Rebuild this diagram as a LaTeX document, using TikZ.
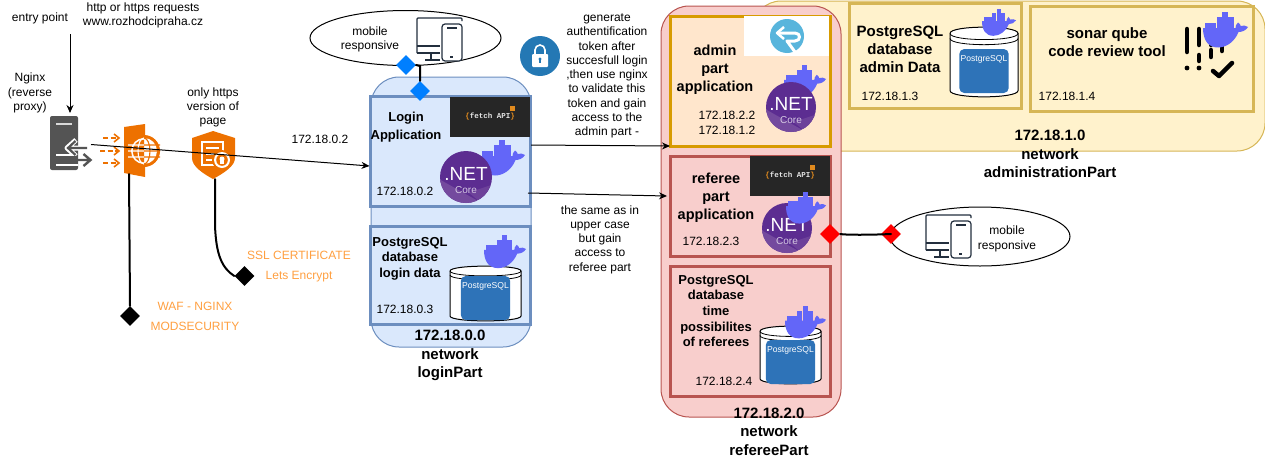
\documentclass[tikz,border=0pt]{standalone}
\usepackage{fontspec}
\setmainfont{Liberation Sans}
\newfontfamily\fetchfont{Liberation Mono}
\usetikzlibrary{arrows.meta,shapes.geometric}
\definecolor{bluefill}{HTML}{DAE8FC}\definecolor{bluedraw}{HTML}{6C8EBF}
\definecolor{redfill}{HTML}{F8CECC}\definecolor{reddraw}{HTML}{B85450}
\definecolor{yelfill}{HTML}{FFF2CC}\definecolor{yeldraw}{HTML}{D6B656}
\definecolor{orfill}{HTML}{FFE6CC}\definecolor{ordraw}{HTML}{D79B00}
\definecolor{awsorange}{HTML}{ED7100}\definecolor{labelorange}{HTML}{FF9F40}
\definecolor{whale}{HTML}{6366F8}\definecolor{pgblue}{HTML}{2E73B8}
\definecolor{netdark}{HTML}{5C2D91}\definecolor{netlight}{HTML}{744A9E}
\definecolor{srvgrey}{HTML}{545454}\definecolor{iconink}{HTML}{232F3E}
\definecolor{lockblue}{HTML}{2478B4}\definecolor{logoblue}{HTML}{58B5DC}
\definecolor{fetchbg}{HTML}{262626}\definecolor{fetchor}{HTML}{E08A1E}
\definecolor{linkblue}{HTML}{007FFF}
\tikzset{
 net/.style={draw,line width=1pt,rounded corners=28pt,inner sep=0pt},
 srvbox/.style={draw,line width=3pt,inner sep=0pt},
 txt/.style={inner sep=0pt,align=center,font=\fontsize{12}{14.3}\selectfont},
 btxt/.style={inner sep=0pt,align=center,font=\fontsize{13}{18}\selectfont\bfseries},
 bigtxt/.style={inner sep=0pt,align=center,font=\fontsize{14.5}{18}\selectfont\bfseries},
 nettxt/.style={inner sep=0pt,align=center,font=\fontsize{15}{18.5}\selectfont\bfseries},
 ortxt/.style={inner sep=0pt,align=center,text=labelorange,font=\fontsize{12}{20}\selectfont},
 ellbox/.style={draw=black,ellipse,fill=white,line width=1pt,inner sep=0pt},
 link/.style={diamond,inner sep=0pt,minimum width=20pt,minimum height=20pt},
 arrowline/.style={line width=1pt,-{Stealth[length=8pt,width=7pt]}},
 thickline/.style={line width=2pt,line cap=round},
}
% whale: x y width
\newcommand{\dockerwhale}[3]{%
 \begin{scope}[shift={(#1,#2)},scale=#3/45]
  \fill[whale] (0,16) -- (32.5,16) .. controls (32.5,14) and (33,12.5) .. (35,10.5) .. controls (36.5,11.5) and (37.5,12.5) .. (37.7,14) .. controls (40,13) and (43,13.5) .. (45,15) .. controls (43,18.5) and (39,20) .. (35.5,20) .. controls (32,29) and (24,35.5) .. (15,35.5) .. controls (5,35.5) and (0,28) .. (0,16) -- cycle;
  \foreach \c in {2.3,8,13.7,19.4,25.1} \fill[whale] (\c,10.6) rectangle +(5.4,5.8);
  \foreach \c in {13.7,19.4,25.1} \fill[whale] (\c,5.2) rectangle +(5.4,5.6);
  \fill[whale] (19.4,0) rectangle +(5.4,5.4);
 \end{scope}}
% .NET: name cx cy r
\newcommand{\dotnetlogo}[4]{%
 \begin{scope}
  \fill[netdark] (#2,#3) circle (#4);
  \begin{scope}
   \clip (#2,#3) circle (#4);
   \fill[netlight] (#2-#4,#3+0.1*#4) -- (#2+0.6*#4,#3+#4) -- (#2-#4,#3+#4) -- cycle;
   \fill[netlight!70!netdark] (#2+0.6*#4,#3+#4) -- (#2+#4,#3+0.3*#4) -- (#2+0.1*#4,#3+0.6*#4) -- cycle;
  \end{scope}
  \node[inner sep=0pt,text=white,font=\fontsize{19}{19}\selectfont] (#1t) at (#2,#3-3) {.NET};
  \node[inner sep=0pt,text=white!75!netdark,font=\fontsize{10}{10}\selectfont] (#1c) at (#2,#3+13) {Core};
 \end{scope}}
% postgres drum: name x0 y0 x1 y1 recttop rectbottom
\newcommand{\pgdrum}[7]{%
 \begin{scope}[shift={(#2,#3)},x={({(#4-#2)/70*1pt},0pt)},y={(0pt,{-(#5-#3)/55*1pt})}]
  \draw[fill=white,line width=1pt] (0,5) .. controls (0,-1.5) and (70,-1.5) .. (70,5) -- (70,50) .. controls (70,56.5) and (0,56.5) .. (0,50) -- cycle;
  \draw[line width=.8pt] (0,5) .. controls (0,11.5) and (70,11.5) .. (70,5);
  \draw[line width=.8pt] (0,9) .. controls (0,15.5) and (70,15.5) .. (70,9);
 \end{scope}
 \fill[pgblue,rounded corners=5pt] ({(#2+#4)/2-24.7},#6) rectangle ({(#2+#4)/2+24.7},#7);
 \node[inner sep=0pt,text=white,font=\fontsize{8.6}{10}\selectfont] (#1) at ({(#2+#4)/2},#6+10) {PostgreSQL};}
% fetch: name x y
\newcommand{\fetchbox}[3]{%
 \fill[fetchbg] (#2,#3) rectangle +(80,40);
 \fill[fetchor] (#2+60,#3+9) rectangle +(5,5);
 \node[inner sep=0pt,font=\fontsize{7.5}{8}\selectfont\fetchfont\bfseries,text=white!90!black] (#1) at (#2+40,#3+20) {\textcolor{fetchor}{\{}fetch API\textcolor{fetchor}{\}}};}
% monitor + phone at x y (46 x 44)
\newcommand{\devices}[2]{%
 \begin{scope}[shift={(#1,#2)},draw=iconink,line width=1.2pt]
  \draw[rounded corners=1pt] (45,3) -- (45,0) -- (0,0) -- (0,35);
  \draw[rounded corners=1pt] (0,28) -- (23,28);
  \draw (0,35) -- (23,35) (14,35) -- (14,42) (8,42) -- (23,42);
  \draw[rounded corners=3pt,fill=white] (25,6) rectangle (45,43);
  \draw (30,10) -- (40,10) (33,39) -- (36,39);
 \end{scope}}
\begin{document}
\begin{tikzpicture}[x=1pt,y=-1pt]
\useasboundingbox (0,0) rectangle (1265,458);

% network backgrounds
\node[net,fill=yelfill,draw=yeldraw,minimum width=512pt,minimum height=150pt] (netadmin) at (1009,76) {};
\node[net,fill=bluefill,draw=bluedraw,minimum width=160pt,minimum height=270pt] (netlogin) at (451,212) {};
\node[net,fill=redfill,draw=reddraw,minimum width=180pt,minimum height=411pt] (netref) at (751,211.5) {};

% service boxes
\node[srvbox,draw=bluedraw,fill=bluefill,minimum width=160pt,minimum height=110pt] (login) at (450.5,151.5) {};
\node[srvbox,draw=bluedraw,fill=bluefill,minimum width=160pt,minimum height=98pt] (pglogin) at (450.5,275.5) {};
\node[srvbox,draw=ordraw,fill=orfill,minimum width=160pt,minimum height=130pt] (admin) at (750.5,81.5) {};
\node[srvbox,draw=reddraw,fill=redfill,minimum width=160pt,minimum height=100pt] (referee) at (750.5,206.5) {};
\node[srvbox,draw=reddraw,fill=redfill,minimum width=160pt,minimum height=130pt] (pgref) at (750.5,331.5) {};
\node[srvbox,draw=yeldraw,fill=yelfill,minimum width=172pt,minimum height=105pt] (pgadmin) at (935.5,56) {};
\node[srvbox,draw=yeldraw,fill=yelfill,minimum width=223pt,minimum height=105pt] (sonar) at (1142,59) {};

% logos in boxes
\fetchbox{fetchlogin}{450}{97}
\fetchbox{fetchref}{750}{156}
\fill[white] (744,16) rectangle (829,56);
\fill[logoblue] (787,36) circle (17);
\draw[white,line width=3pt,line join=round] (777,33) -- (795,33) .. controls (801,33) and (801,41) .. (795,41) -- (787,41) -- (795,52);
\draw[white,line width=2.5pt,line join=round] (784,27) -- (777,33) -- (784,39);

\dockerwhale{480}{140}{45}
\dotnetlogo{netA}{466}{177}{26}
\dockerwhale{784}{65}{42}
\dotnetlogo{netB}{791}{107}{25}
\dotnetlogo{netC}{787}{228}{25}
\dockerwhale{786}{192}{40}

\pgdrum{pgA}{450}{266}{521}{321}{276}{320}
\dockerwhale{484}{235}{42}
\pgdrum{pgB}{950}{27}{1018}{97}{49}{93}
\dockerwhale{982}{9}{34}
\pgdrum{pgC}{760}{326}{821}{384}{340}{384}
\dockerwhale{785}{306}{41}

% sonar bars
\begin{scope}[line width=4.5pt,line cap=round]
 \draw (1187,29) -- (1187,52);
 \fill (1187,68) circle (2.4);
 \draw (1199,29) -- (1199,45) (1199,55) -- (1199,61);
 \fill (1199,68) circle (2.4);
 \draw (1211,36) -- (1211,45) (1211,50) -- (1211,57);
 \draw (1222,40) -- (1222,51);
 \draw[line join=round] (1213,71) -- (1219,76) -- (1232,63);
\end{scope}
\dockerwhale{1203}{12}{45}

% lock
\node[circle,fill=lockblue,minimum size=40pt,inner sep=0pt] (lock) at (540,56) {};
\fill[white,rounded corners=1pt] (532,54) rectangle (548,67);
\draw[white,line width=1.6pt] (535,54) -- (535,50) arc[start angle=180,end angle=360,radius=5] -- (545,54);
\fill[lockblue] (540,59) circle (1.7);
\fill[lockblue] (539.2,59) rectangle (540.8,63);

% server icon
\fill[srvgrey,rounded corners=2pt] (50,116) rectangle (78,170);
\draw[white!85!black,line width=1.3pt] (56,124) -- (72,124);
\draw[white,line width=5pt,line join=round] (90,148) -- (67,148) (76,140) -- (67,148) -- (76,156);
\draw[srvgrey,line width=2.2pt] (87,148) -- (69,148) (75.5,141) -- (68,148) -- (75.5,155);
\draw[white,line width=1.4pt] (56,155) -- (72,155) (56,165) -- (78,165);
\fill[srvgrey] (60,156) rectangle (78,164);
\draw[srvgrey,line width=2.4pt] (74,160) -- (90,160) (83.5,154) -- (90.5,160) -- (83.5,166);

% waf icon
\begin{scope}[awsorange]
 \foreach \yy/\x in {138/103,151/100,163/103} {
  \draw[line width=1.8pt,dash pattern=on 5pt off 2.5pt] (\x,\yy) -- (118,\yy);
  \draw[line width=1.6pt] (114,\yy-4) -- (119,\yy) -- (114,\yy+4);
 }
 \fill (124,127) -- (145,124) -- (145,177) -- (124,173) -- cycle;
 \fill (144,151) circle (16);
 \fill[white] (144,151) circle (13);
 \begin{scope}
  \clip (128,135) rectangle (144,167);
  \fill[awsorange] (144,151) circle (11.3);
  \draw[white,line width=1.1pt] (144,151) ellipse (6 and 13) (128,145) -- (160,145) (128,151) -- (160,151) (128,157) -- (160,157);
 \end{scope}
 \begin{scope}
  \clip (144,135) rectangle (160,167);
  \draw[awsorange,line width=1.1pt] (144,151) ellipse (6 and 13) (128,145) -- (160,145) (128,151) -- (160,151) (128,157) -- (160,157);
 \end{scope}
 % shield
 \fill (213,131) -- (235,138) -- (235,158) .. controls (235,166) and (224,173) .. (213,179) .. controls (202,173) and (192,166) .. (192,158) -- (192,138) -- cycle;
 \draw[white,line width=1.3pt] (223,155) -- (223,142) -- (202,142) -- (202,165) -- (214,165);
 \draw[white,line width=1.2pt] (206,148) -- (219,148) (206,154) -- (214,154) (206,160) -- (212,160);
 \fill[awsorange] (222,160) circle (10);
 \fill[white] (222,160) circle (8);
 \fill[awsorange] (222,160) circle (5.8);
 \fill[white] (222,159) circle (2.5);
 \fill[white] (220,160) rectangle (224,164);
\end{scope}

% ellipses
\node[ellbox,minimum width=191pt,minimum height=55pt] (ell1) at (405.5,38) {};
\node[ellbox,minimum width=180pt,minimum height=59pt] (ell2) at (980,236.5) {};
\devices{417}{18}
\devices{926}{215}

% link diamonds
\node[link,fill=linkblue] (dA) at (406,65) {};
\node[link,fill=linkblue] (dB) at (420,91) {};
\node[link,fill=red] (dC) at (830,234) {};
\node[link,fill=red] (dD) at (891,234) {};
\node[link,fill=black] (dW) at (130,316) {};
\node[link,fill=black] (dS) at (244.5,276) {};

% free ends
\coordinate (entryend) at (70,34);
\coordinate (srvtop) at (70,113);
\coordinate (srvout) at (91,144.5);
\coordinate (loginin) at (369.5,166);
\coordinate (loginA) at (531,145);
\coordinate (adminin) at (670,146);
\coordinate (loginB) at (528,193);
\coordinate (refin) at (667,196);
\coordinate (wafbot) at (129,174);
\coordinate (shbot) at (215,179);

% connectors
\draw[arrowline] (entryend) -- (srvtop);
\draw[arrowline] (srvout) -- (loginin);
\draw[arrowline] (loginA) -- (adminin);
\draw[arrowline] (loginB) -- (refin);
\draw[thickline] (wafbot) -- (dW.north);
\draw[thickline] (shbot) -- (215,225) .. controls (216,255) and (222,268) .. (dS.west);
\draw[thickline] (dA.east) -- (420,66) -- (dB.north);
\draw[thickline] (dC.east) .. controls (845,235) and (870,235) .. (dD.center);

% text
\node[txt] (t1) at (40,18) {entry point};
\node[txt] (t2) at (143,15.2) {http or https requests\\www.rozhodcipraha.cz};
\node[txt] (t3) at (30,93) {Nginx\\(reverse\\proxy)};
\node[txt] (t4) at (213,107.5) {only https\\version of\\page};
\node[txt] (t5) at (320,139) {172.18.0.2};
\node[txt] (t6) at (370,39.5) {mobile\\responsive};
\node[txt] (t7) at (1007,239) {mobile\\responsive};
\node[btxt] (t8) at (406,127) {Login\\Application};
\node[txt] (t9) at (405,191) {172.18.0.2};
\node[btxt,font=\fontsize{13}{15.6}\selectfont\bfseries] (t10) at (410,258.5) {PostgreSQL\\database\\login data};
\node[txt] (t11) at (405,309) {172.18.0.3};
\node[nettxt] (t12) at (450,355.5) {172.18.0.0\\network\\loginPart};
\node[txt] (t13) at (607,76) {generate\\authentification\\token after\\succesfull login\\,then use nginx\\to validate this\\token and gain\\access to the\\admin part -};
\node[txt] (t14) at (600,239.5) {the same as in\\upper case\\but gain\\access to\\referee part};
\node[bigtxt] (t15) at (715,70) {admin\\part\\application};
\node[txt,font=\fontsize{12}{15}\selectfont] (t16) at (727,122.5) {172.18.2.2\\172.18.1.2};
\node[bigtxt] (t17) at (716,198) {referee\\part\\application};
\node[txt] (t18) at (711,241) {172.18.2.3};
\node[btxt,font=\fontsize{13}{15.6}\selectfont\bfseries] (t19) at (716,311) {PostgreSQL\\database\\time\\possibilites\\of referees};
\node[txt] (t20) at (724,381) {172.18.2.4};
\node[nettxt] (t21) at (769,431.5) {172.18.2.0\\network\\refereePart};
\node[bigtxt,font=\fontsize{15}{18}\selectfont\bfseries] (t22) at (900,49) {PostgreSQL\\database\\admin Data};
\node[txt] (t23) at (890,96) {172.18.1.3};
\node[bigtxt,font=\fontsize{15}{18}\selectfont\bfseries] (t24) at (1107,42) {sonar qube\\code review tool};
\node[txt] (t25) at (1067,96) {172.18.1.4};
\node[nettxt] (t26) at (1050,154) {172.18.1.0\\network\\administrationPart};
\node[ortxt] (t27) at (299,267) {SSL CERTIFICATE\\Lets Encrypt};
\node[ortxt] (t28) at (195,316) {WAF - NGINX\\MODSECURITY};
\end{tikzpicture}
\end{document}
